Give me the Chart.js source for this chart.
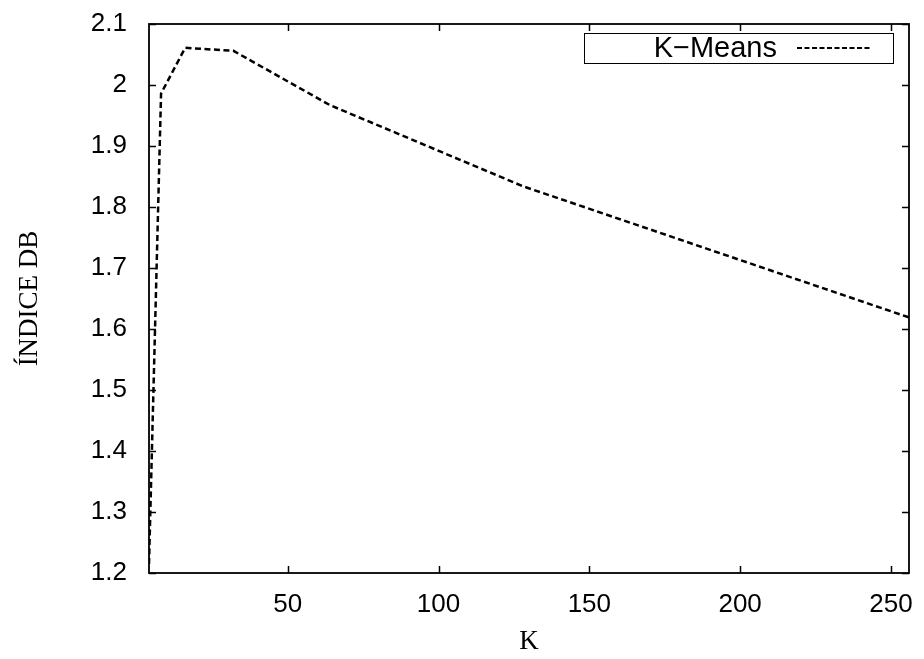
<!DOCTYPE html>
<html>
<head>
<meta charset="utf-8">
<script src="https://cdn.jsdelivr.net/npm/chart.js@4/dist/chart.umd.min.js"></script>
<style>
  html, body { margin: 0; padding: 0; background: #ffffff; }
  #wrap { width: 924px; height: 659px; }
</style>
</head>
<body>
<div id="wrap"><canvas id="c" width="924" height="659"></canvas></div>
<script>
// Davies–Bouldin index for K-Means as the number of clusters grows
const kValues = [4, 8, 16, 32, 64, 128, 256];
const dbIndex = [1.215, 1.986, 2.061, 2.056, 1.967, 1.834, 1.619];
const xTickValues = [50, 100, 150, 200, 250];
const yTickValues = [1.2, 1.3, 1.4, 1.5, 1.6, 1.7, 1.8, 1.9, 2.0, 2.1];
const seriesName = 'K\u2212Means';
const xTitle = 'K';
const yTitle = '\u00CDNDICE DB';

const SANS = '"Liberation Sans", Arial, sans-serif';
const SERIF = '"Liberation Serif", "Times New Roman", serif';
const DASH = [6, 3.5];

// Border box with inward ticks on all four sides, plus a boxed key in the top-right corner
const framePlugin = {
  id: 'frame',
  afterDraw(chart) {
    const { ctx, chartArea: a, scales } = chart;
    const tl = 7;
    ctx.save();
    ctx.strokeStyle = '#000';
    ctx.lineWidth = 1.8;
    ctx.setLineDash([]);
    ctx.strokeRect(a.left, a.top, a.right - a.left, a.bottom - a.top);
    ctx.lineWidth = 1.5;
    ctx.beginPath();
    for (const v of xTickValues) {
      const x = Math.round(scales.x.getPixelForValue(v)) + 0.5;
      ctx.moveTo(x, a.bottom); ctx.lineTo(x, a.bottom - tl);
      ctx.moveTo(x, a.top); ctx.lineTo(x, a.top + tl);
    }
    for (const v of yTickValues) {
      const y = Math.round(scales.y.getPixelForValue(v)) + 0.5;
      ctx.moveTo(a.left, y); ctx.lineTo(a.left + tl, y);
      ctx.moveTo(a.right, y); ctx.lineTo(a.right - tl, y);
    }
    ctx.stroke();

    // key box
    const bx = a.right - 325, by = a.top + 9, bw = 309, bh = 30;
    ctx.lineWidth = 1;
    ctx.strokeRect(bx + 0.5, by + 0.5, bw, bh);
    ctx.fillStyle = '#000';
    ctx.font = '29px ' + SANS;
    ctx.textAlign = 'right';
    ctx.textBaseline = 'middle';
    ctx.fillText(chart.data.datasets[0].label, bx + 193, by + bh / 2 + 1);
    ctx.lineWidth = 2;
    ctx.setLineDash([5, 2.5]);
    ctx.beginPath();
    ctx.moveTo(bx + 213, by + bh / 2);
    ctx.lineTo(bx + 288, by + bh / 2);
    ctx.stroke();
    ctx.restore();
  }
};

new Chart(document.getElementById('c'), {
  type: 'line',
  data: {
    datasets: [{
      label: seriesName,
      data: kValues.map((k, i) => ({ x: k, y: dbIndex[i] })),
      borderColor: '#000',
      borderWidth: 2.5,
      borderDash: DASH,
      pointRadius: 0,
      tension: 0,
      fill: false
    }]
  },
  options: {
    responsive: false,
    animation: false,
    devicePixelRatio: 1,
    layout: { padding: { left: 0, right: 15, top: 24, bottom: 0 } },
    plugins: { legend: { display: false }, tooltip: { enabled: false } },
    scales: {
      x: {
        type: 'linear',
        min: 4,
        max: 256,
        afterBuildTicks(scale) { scale.ticks = xTickValues.map(v => ({ value: v })); },
        afterFit(scale) { scale.height = 86; scale.paddingLeft = 0; scale.paddingRight = 0; },
        grid: { display: false, drawTicks: false },
        border: { display: false },
        ticks: {
          color: '#000',
          font: { family: SANS, size: 26 },
          padding: 16,
          maxRotation: 0,
          autoSkip: false
        },
        title: {
          display: true,
          text: xTitle,
          color: '#000',
          font: { family: SERIF, size: 27 },
          padding: { top: 0, bottom: 1 }
        }
      },
      y: {
        min: 1.2,
        max: 2.1,
        afterBuildTicks(scale) { scale.ticks = yTickValues.map(v => ({ value: v })); },
        afterFit(scale) { scale.width = 149; scale.paddingTop = 0; scale.paddingBottom = 0; },
        grid: { display: false, drawTicks: false },
        border: { display: false },
        ticks: {
          color: '#000',
          font: { family: SANS, size: 26 },
          padding: 22,
          autoSkip: false,
          callback: v => String(Number(v.toFixed(1)))
        },
        title: {
          display: true,
          text: yTitle,
          color: '#000',
          font: { family: SERIF, size: 27 },
          padding: { top: 14, bottom: 0 }
        }
      }
    }
  },
  plugins: [framePlugin]
});
</script>
</body>
</html>
